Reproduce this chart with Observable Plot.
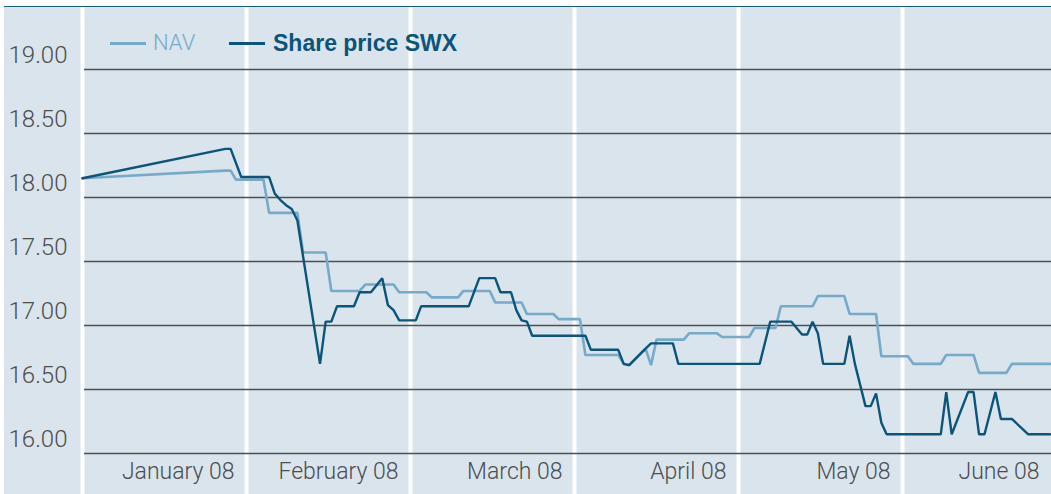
<!DOCTYPE html>
<html>
<head>
<meta charset="utf-8">
<script src="https://cdn.jsdelivr.net/npm/d3@7"></script>
<script src="https://cdn.jsdelivr.net/npm/@observablehq/plot@0.6"></script>
<style>
  body { margin: 0; background: #fff; }
  #wrap { position: relative; width: 1051px; height: 494px; overflow: hidden; background: #d9e4ed; }
  #wrap svg { position: absolute; left: 0; top: 0; background: #d9e4ed; }
  .topband { position: absolute; left: 0; top: 0; width: 1051px; height: 6px; background: #fff; border-bottom: 1.5px solid #1d5d7d; }
  .leftband { position: absolute; left: 0; top: 0; width: 4px; height: 494px; background: #fff; }
  .legend { position: absolute; top: 29px; left: 0; font-size: 22px; line-height: 28px; }
  .legend span { position: absolute; white-space: nowrap; }
  .swatch { position: absolute; }
</style>
</head>
<body>
<div id="wrap"></div>
<script>
// ---- data ----
const months = ["January 08", "February 08", "March 08", "April 08", "May 08", "June 08"];
const yTicks = [16, 16.5, 17, 17.5, 18, 18.5, 19];

const navDates = ["2008-01-01","2008-01-28","2008-01-29","2008-01-30","2008-02-04","2008-02-05","2008-02-10","2008-02-11",
  "2008-02-15","2008-02-16","2008-02-21","2008-02-22","2008-02-27","2008-02-28","2008-03-04","2008-03-05","2008-03-10",
  "2008-03-11","2008-03-16","2008-03-17","2008-03-22","2008-03-23","2008-03-28","2008-03-29","2008-04-02","2008-04-03",
  "2008-04-09","2008-04-10","2008-04-11","2008-04-14","2008-04-15","2008-04-16","2008-04-21","2008-04-22","2008-04-27",
  "2008-04-28","2008-05-03","2008-05-04","2008-05-08","2008-05-09","2008-05-15","2008-05-16","2008-05-21","2008-05-22",
  "2008-05-27","2008-05-28","2008-06-02","2008-06-03","2008-06-08","2008-06-09","2008-06-14","2008-06-15","2008-06-20",
  "2008-06-21","2008-06-28"];
const navValues = [18.15,18.21,18.21,18.14,18.14,17.88,17.88,17.57,
  17.57,17.27,17.27,17.32,17.32,17.26,17.26,17.22,17.22,
  17.27,17.27,17.18,17.18,17.09,17.09,17.05,17.05,16.77,
  16.77,16.70,16.69,16.82,16.69,16.89,16.89,16.94,16.94,
  16.91,16.91,16.98,16.98,17.15,17.15,17.23,17.23,17.09,
  17.09,16.76,16.76,16.70,16.70,16.77,16.77,16.63,16.63,
  16.70,16.70];

const swxDates = ["2008-01-01","2008-01-28","2008-01-29","2008-01-31","2008-02-05","2008-02-06","2008-02-07","2008-02-08",
  "2008-02-09","2008-02-10","2008-02-14","2008-02-15","2008-02-16","2008-02-17","2008-02-20","2008-02-21","2008-02-23",
  "2008-02-25","2008-02-26","2008-02-27","2008-02-28","2008-03-02","2008-03-03","2008-03-12","2008-03-14","2008-03-17",
  "2008-03-18","2008-03-20","2008-03-21","2008-03-22","2008-03-23","2008-03-24","2008-04-03","2008-04-04","2008-04-09",
  "2008-04-10","2008-04-11","2008-04-14","2008-04-15","2008-04-19","2008-04-20","2008-05-05","2008-05-07","2008-05-11",
  "2008-05-13","2008-05-14","2008-05-15","2008-05-16","2008-05-17","2008-05-21","2008-05-22","2008-05-23","2008-05-25",
  "2008-05-26","2008-05-27","2008-05-28","2008-05-29","2008-06-08","2008-06-09","2008-06-10","2008-06-13","2008-06-14",
  "2008-06-15","2008-06-16","2008-06-18","2008-06-19","2008-06-21","2008-06-24","2008-06-28"];
const swxValues = [18.15,18.38,18.38,18.16,18.16,18.03,17.98,17.94,
  17.91,17.82,16.70,17.03,17.03,17.15,17.15,17.26,17.26,
  17.37,17.16,17.12,17.04,17.04,17.15,17.15,17.37,17.37,
  17.26,17.26,17.12,17.04,17.03,16.92,16.92,16.81,16.81,
  16.70,16.69,16.82,16.86,16.86,16.70,16.70,17.03,17.03,
  16.93,16.93,17.03,16.94,16.70,16.70,16.92,16.70,16.37,
  16.37,16.47,16.24,16.15,16.15,16.48,16.15,16.48,16.48,
  16.15,16.15,16.48,16.27,16.27,16.15,16.15];

(function () {
  // each month gets one equal-width panel
  const daysIn = [31, 29, 31, 30, 31, 30];
  function monthPos(s) {
    const m = +s.slice(5, 7) - 1, d = +s.slice(8, 10);
    return m + (d - 1) / daysIn[m];
  }
  const nav = navDates.map((d, i) => ({pos: monthPos(d), value: navValues[i]}));
  const swx = swxDates.map((d, i) => ({pos: monthPos(d), value: swxValues[i]}));
  const boundaries = months.map((m, i) => i);
  const xMax = 5.9085;

  const NAV_COLOR = "#77a9c9";
  const SWX_COLOR = "#0c5478";
  const TEXT = "#4d4d4d";
  const FONT = "Roboto, 'Liberation Sans', Arial, sans-serif";

  const chart = Plot.plot({
    width: 1051,
    height: 494,
    marginLeft: 82,
    marginRight: 0,
    marginTop: 69,
    marginBottom: 41,
    x: {type: "linear", domain: [0, xMax], axis: null},
    y: {domain: [16, 19], axis: null},
    marks: [
      Plot.ruleX(boundaries, {x: d => d, stroke: "#fff", strokeWidth: 4, insetTop: -62, insetBottom: -41}),
      Plot.ruleY(yTicks, {y: d => d, stroke: "#4f4f4f", strokeWidth: 1.6, insetLeft: 2}),
      Plot.text(yTicks, {y: d => d, frameAnchor: "left", text: d => d.toFixed(2), textAnchor: "start",
        dx: -74, dy: -14, fill: TEXT, fontSize: 24, fontFamily: FONT, fontWeight: 300}),
      Plot.text(months, {x: (d, i) => Math.min(i + 1, xMax), frameAnchor: "bottom", text: d => d, textAnchor: "end",
        dx: -12, dy: 25, fill: TEXT, fontSize: 23, fontFamily: FONT, fontWeight: 300}),
      Plot.line(nav, {x: "pos", y: "value", stroke: NAV_COLOR, strokeWidth: 2.6, strokeLinejoin: "miter"}),
      Plot.line(swx, {x: "pos", y: "value", stroke: SWX_COLOR, strokeWidth: 2.4, strokeLinejoin: "miter"})
    ]
  });

  const wrap = document.getElementById("wrap");
  wrap.appendChild(chart);

  const band = document.createElement("div"); band.className = "topband"; wrap.appendChild(band);
  const lband = document.createElement("div"); lband.className = "leftband"; wrap.appendChild(lband);

  const legend = document.createElement("div");
  legend.className = "legend";
  legend.innerHTML =
    `<div class="swatch" style="left:110px;top:13px;width:36px;height:2.5px;background:${NAV_COLOR}"></div>` +
    `<span style="left:153px;top:0;color:${NAV_COLOR};font-family:${FONT};font-weight:300;font-size:22px">NAV</span>` +
    `<div class="swatch" style="left:229px;top:12.5px;width:36px;height:3.5px;background:${SWX_COLOR}"></div>` +
    `<span style="left:273px;top:0;color:${SWX_COLOR};font-family:'Liberation Sans',Arial,sans-serif;font-weight:bold;font-size:23px">Share price SWX</span>`;
  wrap.appendChild(legend);
})();
</script>
</body>
</html>
